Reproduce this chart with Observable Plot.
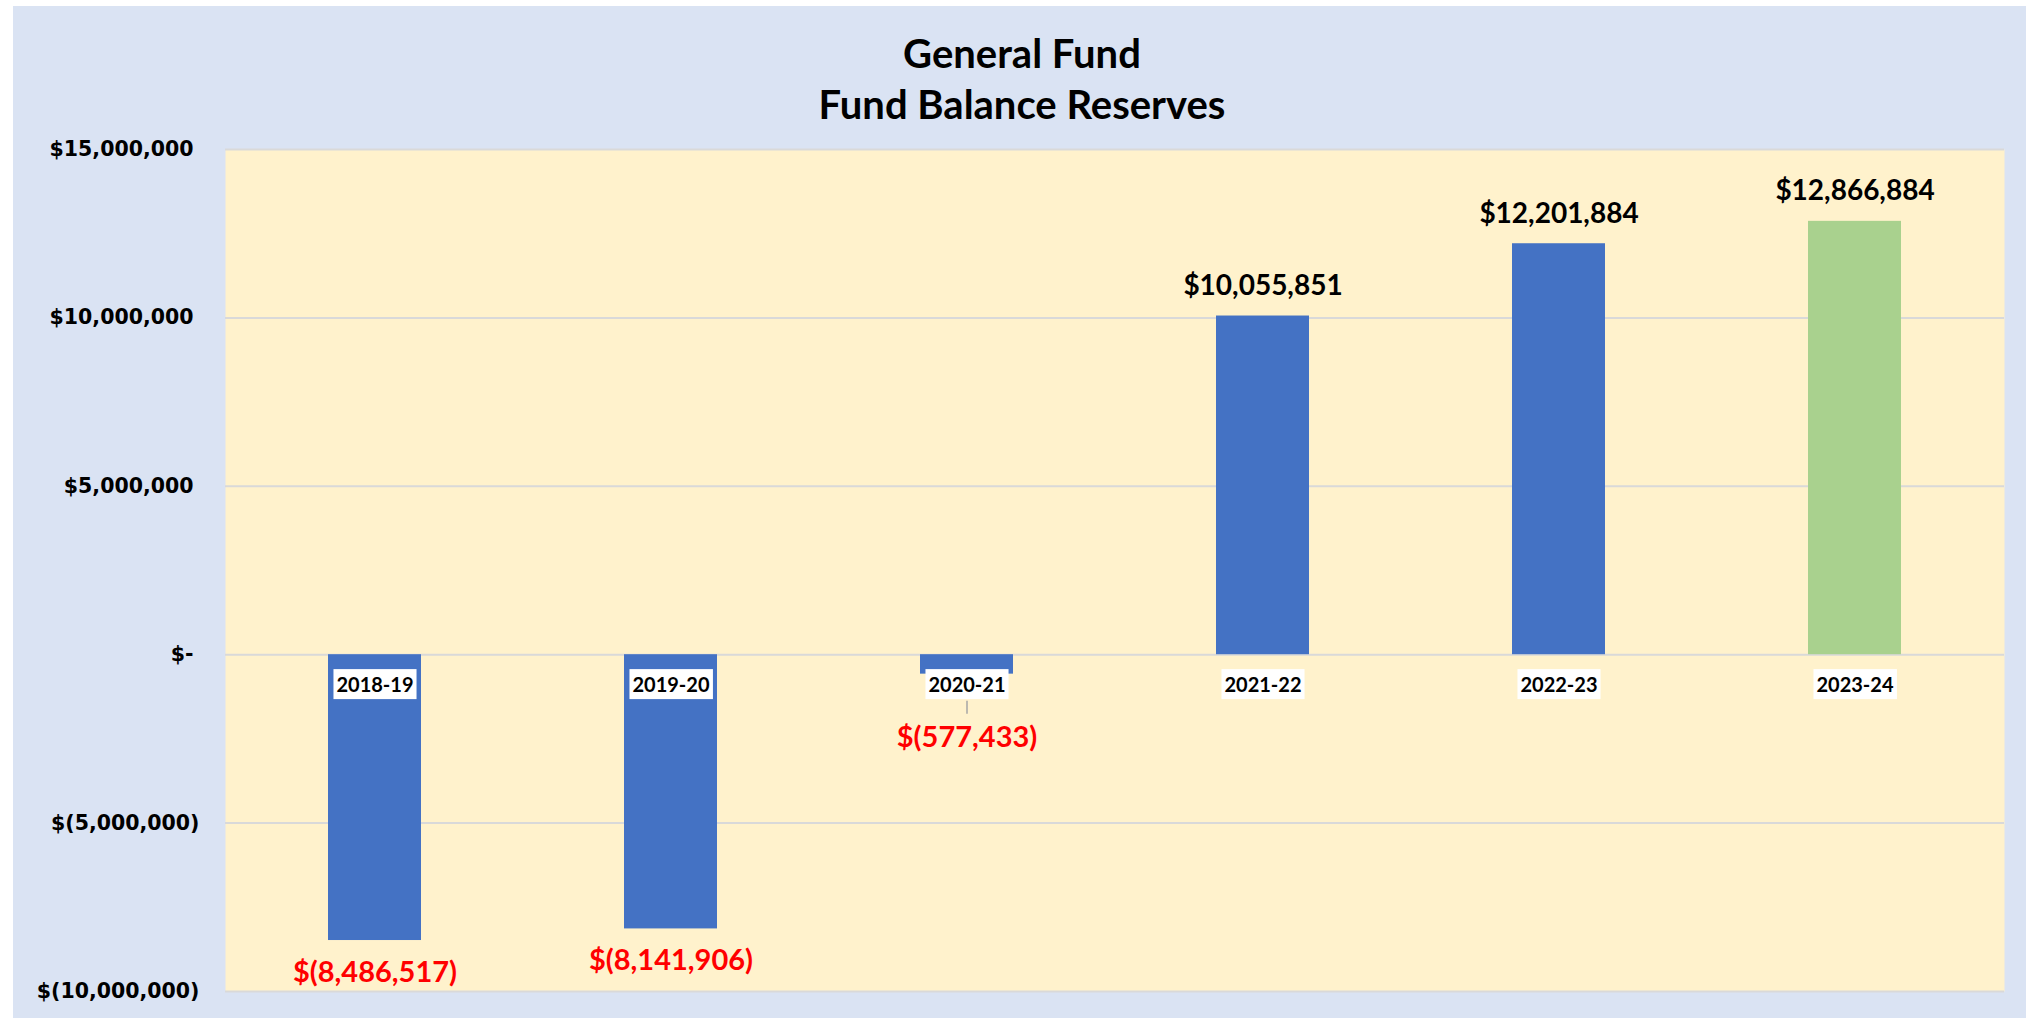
<!DOCTYPE html>
<html>
<head>
<meta charset="utf-8">
<script src="https://cdn.jsdelivr.net/npm/d3@7"></script>
<script src="https://cdn.jsdelivr.net/npm/@observablehq/plot@0.6"></script>
<style>
  html, body { margin: 0; padding: 0; background: #ffffff; }
  #panel { position: absolute; left: 13px; top: 6px; width: 2013px; height: 1012px; background: #DAE3F3; overflow: hidden; }
  .title { position: absolute; left: 0; width: 2018px; text-align: center; font-family: Lato, "Open Sans", sans-serif; font-weight: 700; font-size: 40px; line-height: 1; color: #000; white-space: nowrap; }
  #chart { position: absolute; left: 0; top: 0; }
</style>
</head>
<body>
<div id="panel">
  <div id="chart"></div>
  <div class="title" id="t1"></div>
  <div class="title" id="t2"></div>
</div>
<script>
// ---- data ----
const years = ["2018-19", "2019-20", "2020-21", "2021-22", "2022-23", "2023-24"];
const balances = [-8486517, -8141906, -577433, 10055851, 12201884, 12866884];
const yTicks = [-10000000, -5000000, 0, 5000000, 10000000, 15000000];
const titleLines = ["General Fund", "Fund Balance Reserves"];
const highlightYear = "2023-24";

// ---- styles ----
const BLUE = "#4472C4", GREEN = "#A9D18E", CREAM = "#FFF2CC", GRID = "#D9D9D9";
const LABEL_FONT = "Lato, 'Open Sans', sans-serif";
const AXIS_FONT = "'DejaVu Sans', Verdana, sans-serif";

const data = years.map((year, i) => ({year, value: balances[i]}));
const comma = d3.format(",");
const money = v => v === 0 ? "$-" : v < 0 ? "$(" + comma(-v) + ")" : "$" + comma(v);

document.getElementById("t1").textContent = titleLines[0];
document.getElementById("t2").textContent = titleLines[1];
document.getElementById("t1").style.top = "27px";
document.getElementById("t2").style.top = "78px";

const positives = data.filter(d => d.value >= 0);
const negatives = data.filter(d => d.value < 0);
const shortNeg = negatives.filter(d => -d.value < 1500000);
const longNeg = negatives.filter(d => -d.value >= 1500000);

const chart = Plot.plot({
  width: 2013,
  height: 1012,
  marginTop: 143,
  marginBottom: 27,
  marginLeft: 212,
  marginRight: 22,
  style: {background: "transparent", fontFamily: LABEL_FONT},
  x: {domain: years, paddingInner: 0.686, paddingOuter: 0.343, axis: null},
  y: {domain: [-10000000, 15000000], axis: null},
  marks: [
    Plot.frame({fill: CREAM, stroke: null}),
    Plot.ruleY(yTicks, {stroke: GRID, strokeWidth: 2}),
    Plot.barY(data, {x: "year", y: "value", fill: d => d.year === highlightYear ? GREEN : BLUE}),
    // y axis tick labels
    Plot.text(yTicks.filter(v => v >= 0), {y: d => d, frameAnchor: "left", textAnchor: "end", dx: -32, text: money,
      fontFamily: AXIS_FONT, fontWeight: "bold", fontSize: 20.5, fill: "#000"}),
    Plot.text(yTicks.filter(v => v < 0), {y: d => d, frameAnchor: "left", textAnchor: "end", dx: -26, text: money,
      fontFamily: AXIS_FONT, fontWeight: "bold", fontSize: 20.5, fill: "#000"}),
    // category labels under zero line
    Plot.text(data, {x: "year", y: () => 0, dy: 31, text: "year", fontSize: 20, fontWeight: "bold", fill: "#000", lineAnchor: "middle"}),
    // value labels
    Plot.text(positives, {x: "year", y: "value", dy: -30, text: d => money(d.value), fontSize: 28, fontWeight: "bold", fill: "#000", lineAnchor: "middle"}),
    Plot.text(longNeg, {x: "year", y: "value", dy: 32, text: d => money(d.value), fontSize: 29, fontWeight: "bold", fill: "#FF0000", lineAnchor: "middle"}),
    Plot.ruleX(shortNeg, {x: "year", y1: "value", y2: "value", insetTop: 27, insetBottom: -40, stroke: "#A6A6A6", strokeWidth: 1.5}),
    Plot.text(shortNeg, {x: "year", y: "value", dy: 64, text: d => money(d.value), fontSize: 29, fontWeight: "bold", fill: "#FF0000", lineAnchor: "middle"})
  ]
});
document.getElementById("chart").appendChild(chart);

// white boxes behind category labels
d3.select(chart).selectAll("text").each(function() {
  const t = this.textContent;
  if (!years.includes(t)) return;
  const b = this.getBBox();
  const padX = 3, padY = 3;
  const rect = document.createElementNS("http://www.w3.org/2000/svg", "rect");
  rect.setAttribute("x", b.x - padX);
  rect.setAttribute("y", b.y - padY);
  rect.setAttribute("width", b.width + 2 * padX);
  rect.setAttribute("height", b.height + 2 * padY);
  rect.setAttribute("fill", "#ffffff");
  const tr = this.getAttribute("transform");
  if (tr) rect.setAttribute("transform", tr);
  this.parentNode.insertBefore(rect, this);
});
</script>
</body>
</html>
